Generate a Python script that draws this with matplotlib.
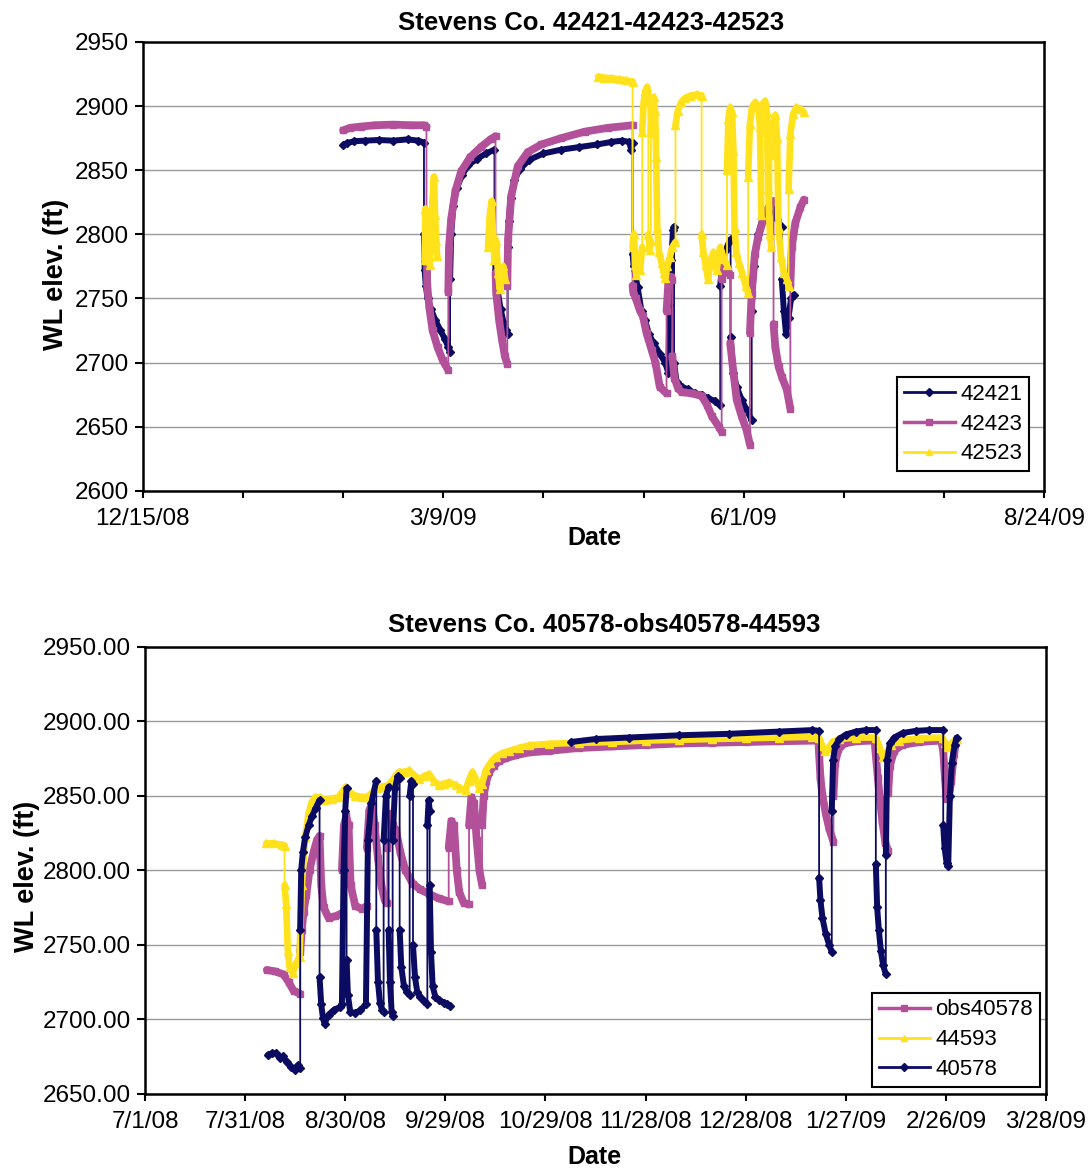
import numpy as np
import matplotlib.pyplot as plt
from matplotlib.lines import Line2D
from datetime import date, timedelta

plt.rcParams["font.family"] = ["Liberation Sans", "DejaVu Sans"]

NAVY = "#0b0b62"
MAGENTA = "#b3509a"
YELLOW = "#ffe21c"
nan = np.nan

# ---- Stevens Co. 42421-42423-42523 (days since 12/15/08) ----
TOP_START = date(2008, 12, 15)

t_42421 = [
    56.0, 57.0, 59.0, 62.0, 66.0, 70.0, 74.0, 77.0, 78.6,
    78.6, 78.8, 79.1, 79.6, 80.5, 81.8, 83.2, 84.5, 85.4, 85.9,
    85.9, 86.2, 86.8, 87.8, 89.2, 91.0, 93.5, 96.0, 98.3,
    98.3, 98.6, 99.2, 100.0, 100.8, 101.6, 102.0,
    102.0, 102.3, 102.8, 103.8, 105.5, 108.0, 112.0, 117.0, 122.0, 127.0, 131.0, 134.0, 136.0, 136.5, 136.9,
    136.9, 137.2, 138.3, 139.4, 140.4, 141.5, 142.8, 144.5, 146.0, 146.9,
    147.2, 147.7, 148.2, 148.5,
    148.5, 149.2, 150.6, 152.5, 154.3, 156.2, 158.1, 160.0, 161.4,
    161.4, 162.0, 163.0, 164.0, 164.3,
    164.3, 165.1, 166.0, 167.4, 168.8, 170.2,
    170.2, 170.8, 172.0, 173.5, 175.0, 176.2, 177.2, 178.6,
    178.6, 179.2, 179.8, 180.5, 181.2, 182.0,
]
wl_42421 = [
    2869.5, 2871, 2872.5, 2873, 2873.5, 2873, 2874, 2873, 2871.5,
    2800, 2772, 2760, 2750, 2742, 2733, 2725, 2718, 2712, 2708,
    2765, 2800, 2822, 2836, 2846, 2854, 2859, 2863, 2866,
    2790, 2772, 2756, 2742, 2732, 2725, 2722,
    2790, 2810, 2828, 2842, 2851, 2858, 2863, 2866, 2868, 2870, 2872, 2873, 2872, 2866, 2871,
    2785, 2775, 2759, 2740, 2733, 2722, 2715, 2707, 2700, 2692,
    2745, 2780, 2803, 2806,
    2700, 2685, 2681, 2679, 2676, 2675, 2672, 2670, 2667,
    2760, 2778, 2788, 2795, 2796,
    2720, 2692, 2681, 2671, 2663, 2655,
    2740, 2775, 2800, 2815, 2822, 2820, 2812, 2806,
    2765, 2740, 2722, 2735, 2750, 2753,
]

t_42423 = [
    56.0, 58.0, 61.0, 65.0, 70.0, 75.0, 78.6, 79.3,
    79.3, 79.5, 80.1, 81.0, 82.4, 83.8, 85.4,
    85.4, 85.6, 86.2, 87.4, 89.0, 91.5, 94.5, 97.2, 98.6,
    98.6, 98.8, 99.6, 100.4, 101.2, 101.9,
    101.9, 102.1, 103.0, 104.8, 107.6, 111.4, 117.0, 123.5, 130.0, 136.9,
    136.9, 137.1, 137.8, 138.9, 139.8, 140.8, 142.2, 143.3, 144.5, 146.4,
    146.4, 146.9, 147.6, 148.0,
    148.0, 148.6, 149.6, 150.6, 153.4, 156.2, 157.7, 159.1, 161.0, 161.8,
    161.8, 162.5, 163.5, 164.2,
    164.2, 165.1, 166.0, 167.4, 168.8, 169.7,
    169.7, 170.2, 171.1, 172.0, 173.4, 174.9, 176.3,
    176.3, 176.8, 177.7, 178.6, 180.0, 181.0,
    181.0, 181.4, 182.4, 183.8, 184.8,
]
wl_42423 = [
    2881, 2883, 2884, 2885, 2885.5, 2885, 2885, 2884,
    2816, 2760, 2743, 2725, 2712, 2702, 2694,
    2755, 2790, 2812, 2834, 2849, 2860, 2868, 2874, 2876.5,
    2770, 2754, 2733, 2718, 2705, 2699,
    2760, 2796, 2830, 2853, 2864, 2870, 2875, 2880, 2883, 2885,
    2760, 2755, 2750, 2741, 2736, 2723, 2710, 2700, 2681, 2676,
    2740, 2762, 2767, 2764,
    2705, 2688, 2680, 2677, 2676, 2674, 2667, 2658, 2650, 2646,
    2765, 2775, 2772, 2768,
    2715, 2692, 2671, 2658, 2647, 2636,
    2723, 2754, 2785, 2798, 2811, 2821, 2826,
    2730, 2712, 2697, 2689, 2679, 2664,
    2760, 2790, 2809, 2821, 2827,
]

t_42523 = [
    78.8, 79.0, 79.4, 79.8, 80.2, 80.6, 81.0, 81.4, 81.7, 82.0, 82.3,
    90.0,
    96.5, 97.0, 97.5, 97.9, 98.3, 98.8, 99.3, 99.8, 100.3, 100.8, 101.3,
    110.0,
    127.3, 129.0, 131.0, 133.0, 135.0, 136.9,
    136.9, 137.3, 137.6, 138.0, 138.5, 139.0, 139.6,
    139.6, 140.0, 140.5, 141.0, 141.3,
    141.3, 141.7, 142.0,
    142.0, 142.4, 142.8, 143.2, 143.5, 143.8, 144.3, 145.0, 145.6, 146.1, 146.6, 147.3, 148.0, 148.9,
    148.9, 149.5, 150.5, 151.5, 153.0, 155.0, 156.2,
    156.2, 156.7, 157.3, 158.0, 158.8, 159.5, 160.4, 161.4, 162.4, 163.3,
    163.3, 163.7, 164.2, 164.7, 165.1, 165.4, 165.9, 166.6, 167.5, 168.5, 169.2,
    169.2, 169.7, 170.4, 171.2, 172.0, 172.5, 172.9,
    172.9, 173.4, 173.9, 174.4, 174.8, 175.3, 175.7,
    175.7, 176.2, 176.8, 177.3, 177.7, 178.4, 179.2, 180.0, 180.5,
    180.5, 181.0, 181.8, 182.7, 183.7, 184.7,
]
wl_42523 = [
    2780, 2820, 2805, 2790, 2776, 2800, 2828, 2845, 2815, 2795, 2783,
    nan,
    2790, 2815, 2826, 2800, 2780, 2795, 2770, 2757, 2770, 2775, 2765,
    nan,
    2923, 2922, 2921.5, 2921, 2920, 2919,
    2790, 2800, 2776, 2768, 2784, 2772, 2790,
    2880, 2903, 2912, 2915, 2906,
    2800, 2788, 2795,
    2880, 2903, 2907, 2896, 2860, 2805, 2786, 2778, 2770, 2766, 2775, 2782, 2790, 2794,
    2885, 2896, 2903, 2906, 2908, 2909, 2908,
    2800, 2786, 2776, 2765, 2780, 2786, 2772, 2790, 2781, 2776,
    2850, 2890, 2899, 2895, 2865, 2805, 2786, 2778, 2770, 2760, 2754,
    2845, 2886, 2900, 2903, 2900, 2884, 2815,
    2880, 2902, 2904, 2895, 2835, 2800, 2790,
    2862, 2888, 2893, 2875, 2805, 2782, 2770, 2765, 2760,
    2835, 2878, 2894, 2899, 2898, 2895,
]

# ---- Stevens Co. 40578-obs40578-44593 (days since 7/1/08) ----
BOT_START = date(2008, 7, 1)

t_obs40578 = [
    36.5, 39.0, 41.5, 43.0, 44.5, 46.5,
    46.5, 47.0, 47.5, 48.3, 49.3, 50.5, 51.5, 52.3,
    52.8, 53.5, 55.0, 57.0, 59.0,
    59.0, 59.6, 60.3, 61.0,
    61.6, 63.0, 65.0, 66.5,
    66.5, 67.2, 68.0, 68.8, 69.8, 70.8, 71.8, 72.6,
    72.6, 73.3, 74.2, 75.2, 76.5, 78.0, 80.2, 82.5, 85.1, 88.0, 91.0,
    91.0, 91.8, 92.6, 93.4, 94.2, 95.5, 97.1,
    97.1, 97.8, 98.6, 99.4, 100.2, 101.0,
    101.0, 101.5, 102.3, 103.2, 104.5, 106.0, 108.0, 111.0, 115.0, 121.0,
    130.0, 140.0, 150.0, 160.0, 170.0, 180.0, 190.0, 201.8,
    202.0, 202.4, 203.0, 204.0, 205.0, 206.3,
    206.3, 206.8, 207.8, 209.5, 213.0, 218.6,
    219.0, 219.6, 220.2, 221.0, 221.9, 222.7,
    222.7, 223.2, 224.5, 226.8, 232.0, 238.6,
    239.2, 239.7, 240.2, 240.9, 241.6, 242.4, 243.1,
]
wl_obs40578 = [
    2733, 2732, 2730, 2725, 2719, 2717,
    2745, 2760, 2772, 2783, 2800, 2812, 2820, 2823,
    2790, 2775, 2768, 2769, 2771,
    2800, 2830, 2836, 2830,
    2790, 2776, 2774, 2776,
    2815, 2840, 2845, 2830, 2808, 2790, 2780, 2778,
    2815, 2838, 2830, 2827, 2812, 2800, 2791, 2787, 2784, 2781, 2779,
    2815, 2833, 2830, 2800, 2785, 2778, 2777,
    2830, 2849, 2845, 2820, 2800, 2790,
    2830, 2850, 2860, 2866, 2870, 2873, 2875, 2877, 2879, 2880,
    2882, 2883, 2884, 2885, 2885.5, 2886, 2886.5, 2887,
    2878, 2862, 2850, 2838, 2828, 2819,
    2850, 2872, 2881, 2885, 2886.5, 2887,
    2877, 2862, 2848, 2832, 2818, 2813,
    2852, 2870, 2880, 2884, 2886, 2887,
    2880, 2862, 2848, 2849, 2860, 2878, 2886,
]

t_44593 = [
    36.3, 38.5, 41.0, 41.8,
    41.8, 42.3, 42.8, 43.3, 44.3, 45.3, 46.3,
    47.0, 48.0, 49.0, 50.0, 51.0, 52.5, 54.0, 56.0, 58.0, 60.2,
    61.5, 63.0, 65.0, 66.5, 68.0, 69.5, 71.0, 73.0, 75.0, 76.2,
    78.0, 79.2, 80.5, 82.2, 83.5, 85.1, 86.5, 88.1, 89.5, 91.1,
    93.1, 94.5, 96.1, 97.0, 98.1, 99.0, 100.1, 101.0, 102.1, 103.5,
    105.1, 107.0, 109.1, 112.0, 115.0, 121.0, 130.0, 140.0, 150.0, 160.0,
    170.0, 180.0, 190.0, 200.0, 202.0,
    203.0, 203.8, 204.8, 206.0, 208.0, 213.0, 219.0, 220.2, 221.2, 222.2,
    223.5, 226.0, 232.0, 239.0, 239.8, 240.3, 241.0, 242.6, 243.2,
]
wl_44593 = [
    2818, 2818, 2817, 2816.5,
    2790, 2777, 2746, 2735, 2731, 2737.5, 2742,
    2790, 2822, 2838, 2846, 2849, 2849, 2847, 2848, 2849, 2856,
    2852, 2850, 2849, 2849, 2852, 2855, 2856, 2857, 2863, 2866,
    2866, 2867, 2864, 2861, 2863, 2864.5, 2860, 2857, 2858, 2859,
    2857, 2855, 2853.6, 2860, 2866, 2862, 2855, 2858, 2867, 2872,
    2876, 2878.5, 2880, 2882, 2883.7, 2884.8, 2885.5, 2886, 2887, 2887.5,
    2888, 2888.5, 2889, 2889.5, 2889,
    2883, 2880, 2882, 2886, 2888, 2889, 2889, 2882, 2876, 2878,
    2884, 2887, 2888.5, 2889, 2885, 2882.6, 2884, 2887, 2888,
]

t_40578 = [
    36.8, 38.0, 39.3, 40.5, 41.3, 42.5, 43.8, 44.8, 45.8, 46.5,
    46.5, 46.8, 47.3, 48.0, 49.0, 50.0, 51.2, 52.3,
    52.3, 52.8, 53.3, 53.8, 55.0, 56.5, 58.3, 59.0,
    59.5, 60.0, 60.4,
    60.4, 60.8, 61.5, 63.0, 64.5, 66.2,
    66.8, 67.8, 69.3,
    69.3, 69.8, 70.4, 71.0, 71.5,
    71.5, 72.2, 73.0,
    73.0, 73.4, 73.9, 74.2,
    74.2, 74.9, 75.7, 76.3,
    76.3, 76.8, 77.6, 78.5, 79.3,
    79.3, 79.8, 80.3,
    80.3, 80.9, 81.6, 82.5, 83.5, 84.6,
    84.6, 85.0, 85.3,
    85.3, 85.7, 86.2, 87.0, 88.1, 89.5, 90.6, 91.5,
    110.0,
    127.6, 135.0, 145.0, 160.0, 175.0, 190.0, 200.0, 202.0,
    202.0, 202.4, 203.0, 204.0, 205.0, 205.8,
    205.8, 206.2, 206.8, 208.0, 210.0, 213.0, 216.0, 219.0,
    219.0, 219.4, 219.9, 220.5, 221.2, 222.0,
    222.0, 222.4, 223.2, 224.5, 227.0, 231.0, 235.0, 239.2,
    239.2, 239.6, 240.2, 240.7,
    241.2, 241.8, 242.6, 243.2,
]
wl_40578 = [
    2676, 2677, 2677, 2674, 2675, 2671, 2668, 2666, 2669, 2667,
    2760, 2800, 2812, 2822, 2830, 2836, 2842, 2847,
    2728, 2710, 2701, 2697, 2703, 2706, 2708, 2710,
    2800, 2840, 2855,
    2740, 2716, 2705, 2704, 2706, 2710,
    2820, 2845, 2860,
    2760, 2725, 2711, 2706, 2705,
    2820, 2850, 2856,
    2760, 2725, 2705, 2702,
    2820, 2855, 2863, 2862,
    2760, 2735, 2722, 2718, 2716,
    2850, 2860, 2858,
    2750, 2728, 2718, 2715, 2712, 2710,
    2830, 2847, 2840,
    2790, 2745, 2722, 2715, 2713, 2711, 2710, 2709,
    nan,
    2886, 2888, 2889, 2890.5, 2891.5, 2893, 2894, 2893.5,
    2795, 2780, 2768, 2757, 2750, 2745,
    2840, 2874, 2883, 2888, 2891, 2893, 2894, 2894,
    2804, 2775, 2760, 2746, 2736, 2730,
    2810, 2874, 2885, 2889, 2892, 2893.5, 2894, 2894,
    2830, 2815, 2805, 2803,
    2850, 2872, 2884, 2889,
]


def dense_part(t, v):
    # readings logged at the same time stamp are pump on/off steps:
    # keep those as thin connectors, everything else as a thick trace
    xs, ys = [t[0]], [v[0]]
    for i in range(1, len(t)):
        if t[i] == t[i - 1]:
            xs.append(nan)
            ys.append(nan)
        xs.append(t[i])
        ys.append(v[i])
    return xs, ys


def draw_well(ax, t, v, color, marker, ms, band_lw, z):
    bx, by = dense_part(t, v)
    ax.plot(bx, by, color=color, lw=band_lw, solid_capstyle="round",
            solid_joinstyle="round", zorder=z)
    ax.plot(t, v, color=color, lw=1.3, marker=marker, ms=ms,
            mfc=color, mec=color, zorder=z)


def fmt_day(start, d):
    day = start + timedelta(days=int(d))
    return f"{day.month}/{day.day}/{day:%y}"


def style_axes(ax, ylo, yhi, yfmt):
    for s in ax.spines.values():
        s.set_linewidth(1.8)
        s.set_color("black")
    ax.set_ylim(ylo, yhi)
    yt = np.arange(ylo, yhi + 1, 50)
    ax.set_yticks(yt)
    ax.set_yticklabels([yfmt.format(y) for y in yt])
    ax.yaxis.grid(True, color="#999999", lw=1.0)
    ax.set_axisbelow(True)
    ax.tick_params(axis="x", direction="out", length=5, width=1.5,
                   labelsize=17.5, pad=7.5)
    ax.tick_params(axis="y", direction="out", length=6, width=1.5,
                   labelsize=17.5, pad=4)


def add_legend(ax, handles, labels, anchor):
    leg = ax.legend(handles, labels, loc="lower right", bbox_to_anchor=anchor,
                    borderaxespad=0, fontsize=16, numpoints=1,
                    handlelength=2.3, handletextpad=0.25, labelspacing=0.4,
                    borderpad=0.3, fancybox=False, framealpha=1,
                    edgecolor="black")
    leg.get_frame().set_linewidth(1.5)


fig = plt.figure(figsize=(10.88, 11.7), dpi=100)

# top chart
ax1 = fig.add_axes([0.1312, 0.5805, 0.8287, 0.3837])
draw_well(ax1, t_42421, wl_42421, NAVY, "D", 4.5, 4.3, 2)
draw_well(ax1, t_42423, wl_42423, MAGENTA, "s", 5.0, 5.6, 3)
draw_well(ax1, t_42523, wl_42523, YELLOW, "^", 5.5, 4.8, 4)
ax1.set_xlim(0, 252)
ticks1 = np.arange(0, 253, 28)
ax1.set_xticks(ticks1)
ax1.set_xticklabels([fmt_day(TOP_START, d) if d % 84 == 0 else "" for d in ticks1])
style_axes(ax1, 2600, 2950, "{:.0f}")

h1 = [Line2D([], [], color=NAVY, lw=2, marker="D", ms=4),
      Line2D([], [], color=MAGENTA, lw=2.5, marker="s", ms=5),
      Line2D([], [], color=YELLOW, lw=2, marker="^", ms=5)]
add_legend(ax1, h1, ["42421", "42423", "42523"], (0.983, 0.044))

# bottom chart
ax2 = fig.add_axes([0.1333, 0.0653, 0.8281, 0.3820])
draw_well(ax2, t_obs40578, wl_obs40578, MAGENTA, "s", 5.0, 5.6, 2)
draw_well(ax2, t_44593, wl_44593, YELLOW, "^", 5.5, 4.8, 3)
draw_well(ax2, t_40578, wl_40578, NAVY, "D", 4.5, 4.3, 4)
ax2.set_xlim(0, 270)
ticks2 = np.arange(0, 271, 30)
ax2.set_xticks(ticks2)
ax2.set_xticklabels([fmt_day(BOT_START, d) for d in ticks2])
style_axes(ax2, 2650, 2950, "{:.2f}")

h2 = [Line2D([], [], color=MAGENTA, lw=2.5, marker="s", ms=5),
      Line2D([], [], color=YELLOW, lw=2, marker="^", ms=5),
      Line2D([], [], color=NAVY, lw=2, marker="D", ms=4)]
add_legend(ax2, h2, ["obs40578", "44593", "40578"], (0.993, 0.015))

# titles and axis labels
fig.text(591.5 / 1088, 1 - 23 / 1170, "Stevens Co. 42421-42423-42523",
         ha="center", va="center", fontsize=18.5, fontweight="bold")
fig.text(604 / 1088, 1 - 624.5 / 1170, "Stevens Co. 40578-obs40578-44593",
         ha="center", va="center", fontsize=18.5, fontweight="bold")
fig.text(594 / 1088, 1 - 538 / 1170, "Date", ha="center", va="center",
         fontsize=18, fontweight="bold")
fig.text(594 / 1088, 1 - 1157 / 1170, "Date", ha="center", va="center",
         fontsize=18, fontweight="bold")
fig.text(56 / 1088, 1 - 274 / 1170, "WL elev. (ft)", ha="center", va="center",
         rotation=90, fontsize=19.5, fontweight="bold")
fig.text(27 / 1088, 1 - 876 / 1170, "WL elev. (ft)", ha="center", va="center",
         rotation=90, fontsize=19.5, fontweight="bold")

fig.savefig("out.png", dpi=100)
